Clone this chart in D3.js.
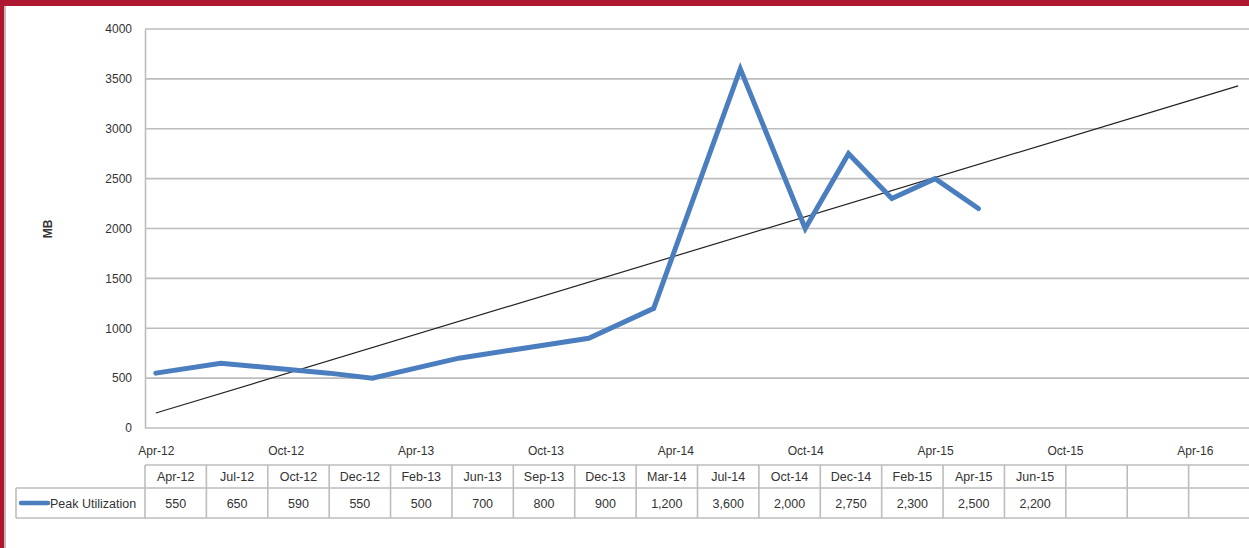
<!DOCTYPE html>
<html>
<head>
<meta charset="utf-8">
<script src="https://cdn.jsdelivr.net/npm/d3@7"></script>
<style>
  html, body { margin: 0; padding: 0; background: #fff; }
  svg { display: block; }
  text { font-family: "Liberation Sans Narrow", "Liberation Sans", Arial, sans-serif; fill: #333; }
</style>
</head>
<body>
<svg id="chart" width="1249" height="548"></svg>
<script>
// ---- data ----
const categories = ["Apr-12","Jul-12","Oct-12","Dec-12","Feb-13","Jun-13","Sep-13","Dec-13","Mar-14","Jul-14","Oct-14","Dec-14","Feb-15","Apr-15","Jun-15"];
const peakUtilization = [550,650,590,550,500,700,800,900,1200,3600,2000,2750,2300,2500,2200];
const seriesName = "Peak Utilization";
const yTicks = [0,500,1000,1500,2000,2500,3000,3500,4000];
const xTickLabels = ["Apr-12","Oct-12","Apr-13","Oct-13","Apr-14","Oct-14","Apr-15","Oct-15","Apr-16"];
const trendDates = ["Apr-12","Jun-16"];
const trendValues = [150, 3430];
const axisStart = "Apr-12";
const axisEnd = "Jun-16";
const blankTableColumns = ["", "", ""];
const yLabel = "MB";

// ---- layout ----
const svg = d3.select("#chart");
const W = 1249, H = 548;
const plot = { left: 145, right: 1249, top: 29, bottom: 428 };

const parse = d3.timeParse("%b-%y");
const t0 = parse(axisStart);
const mIdx = s => d3.timeMonth.count(t0, parse(s));

const x = d3.scaleLinear()
  .domain([-0.5, mIdx(axisEnd) + 0.5])
  .range([plot.left, plot.right]);
const y = d3.scaleLinear().domain([0, 4000]).range([plot.bottom, plot.top]);

svg.append("rect").attr("width", W).attr("height", H).attr("fill", "#fff");

// gridlines
svg.append("g").selectAll("line").data(yTicks.filter(d => d > 0)).join("line")
  .attr("x1", plot.left).attr("x2", plot.right)
  .attr("y1", d => y(d)).attr("y2", d => y(d))
  .attr("stroke", "#bdbdbd").attr("stroke-width", 1.6);

// y axis
const yAxis = d3.axisLeft(y).tickValues(yTicks).tickSize(0).tickPadding(13).tickFormat(d3.format("d"));
const gy = svg.append("g").attr("transform", `translate(${plot.left},0)`).call(yAxis);
gy.select(".domain").attr("stroke", "#bdbdbd").attr("stroke-width", 1.6);
gy.selectAll("text").attr("font-size", 12).attr("fill", "#333").attr("dy", "0.32em");

// x axis
svg.append("line").attr("x1", plot.left).attr("x2", plot.right)
  .attr("y1", plot.bottom).attr("y2", plot.bottom)
  .attr("stroke", "#bdbdbd").attr("stroke-width", 1.6);
const xAxis = d3.axisBottom(x).tickValues(xTickLabels.map(mIdx)).tickSize(0).tickPadding(18)
  .tickFormat((d, i) => xTickLabels[i]);
const gx = svg.append("g").attr("transform", `translate(0,${plot.bottom})`).call(xAxis);
gx.select(".domain").remove();
gx.selectAll("text").attr("font-size", 12).attr("fill", "#333");

// y label
svg.append("text")
  .attr("transform", `translate(52,229) rotate(-90)`)
  .attr("text-anchor", "middle").attr("font-size", 12).attr("font-weight", "bold")
  .attr("fill", "#222").text(yLabel);

// trendline
const line = d3.line().x(d => x(mIdx(d[0]))).y(d => y(d[1]));
svg.append("path").datum(d3.zip(trendDates, trendValues))
  .attr("d", line).attr("fill", "none").attr("stroke", "#222").attr("stroke-width", 1.2);

// series
svg.append("path").datum(d3.zip(categories, peakUtilization))
  .attr("d", line).attr("fill", "none").attr("stroke", "#4a7ebf")
  .attr("stroke-width", 5).attr("stroke-linejoin", "miter").attr("stroke-linecap", "round");

// ---- data table ----
const tableCols = categories.concat(blankTableColumns);
const tx = d3.scaleBand().domain(d3.range(tableCols.length)).range([plot.left, plot.right + 1]);
const rowTop = 465, rowMid = 488, rowBot = 518, legendLeft = 16;
const tg = svg.append("g");
const bc = "#bdbdbd";
tg.append("line").attr("x1", plot.left).attr("x2", W).attr("y1", rowTop).attr("y2", rowTop).attr("stroke", bc).attr("stroke-width", 1.6);
tg.append("line").attr("x1", legendLeft).attr("x2", W).attr("y1", rowMid).attr("y2", rowMid).attr("stroke", bc).attr("stroke-width", 1.6);
tg.append("line").attr("x1", legendLeft).attr("x2", W).attr("y1", rowBot).attr("y2", rowBot).attr("stroke", bc).attr("stroke-width", 1.6);
tg.append("line").attr("x1", legendLeft).attr("x2", legendLeft).attr("y1", rowMid).attr("y2", rowBot).attr("stroke", bc).attr("stroke-width", 1.6);
tg.selectAll("line.v").data(d3.range(tableCols.length)).join("line").attr("class", "v")
  .attr("x1", i => tx(i)).attr("x2", i => tx(i))
  .attr("y1", rowTop).attr("y2", rowBot).attr("stroke", bc).attr("stroke-width", 1.6);
tg.selectAll("text.h").data(tableCols).join("text").attr("class", "h")
  .attr("x", (d, i) => tx(i) + tx.bandwidth() / 2).attr("y", (rowTop + rowMid) / 2 + 4.5)
  .attr("text-anchor", "middle").attr("font-size", 12.5).text(d => d);
const fmt = d3.format(",");
tg.selectAll("text.v").data(peakUtilization).join("text").attr("class", "v")
  .attr("x", (d, i) => tx(i) + tx.bandwidth() / 2).attr("y", (rowMid + rowBot) / 2 + 4.5)
  .attr("text-anchor", "middle").attr("font-size", 12.5).text(d => fmt(d));
tg.append("line").attr("x1", 21).attr("x2", 48).attr("y1", (rowMid + rowBot) / 2).attr("y2", (rowMid + rowBot) / 2)
  .attr("stroke", "#4a7ebf").attr("stroke-width", 4.5).attr("stroke-linecap", "round");
tg.append("text").attr("x", 50).attr("y", (rowMid + rowBot) / 2 + 4.5)
  .attr("font-size", 12.5).text(seriesName);

// red frame
svg.append("rect").attr("x", 0).attr("y", 0).attr("width", W).attr("height", 6).attr("fill", "#ad1730");
svg.append("rect").attr("x", 0).attr("y", 0).attr("width", 4).attr("height", H).attr("fill", "#ad1730");
svg.append("rect").attr("x", 4).attr("y", 6).attr("width", 2).attr("height", H).attr("fill", "#c9b9bd");
</script>
</body>
</html>
